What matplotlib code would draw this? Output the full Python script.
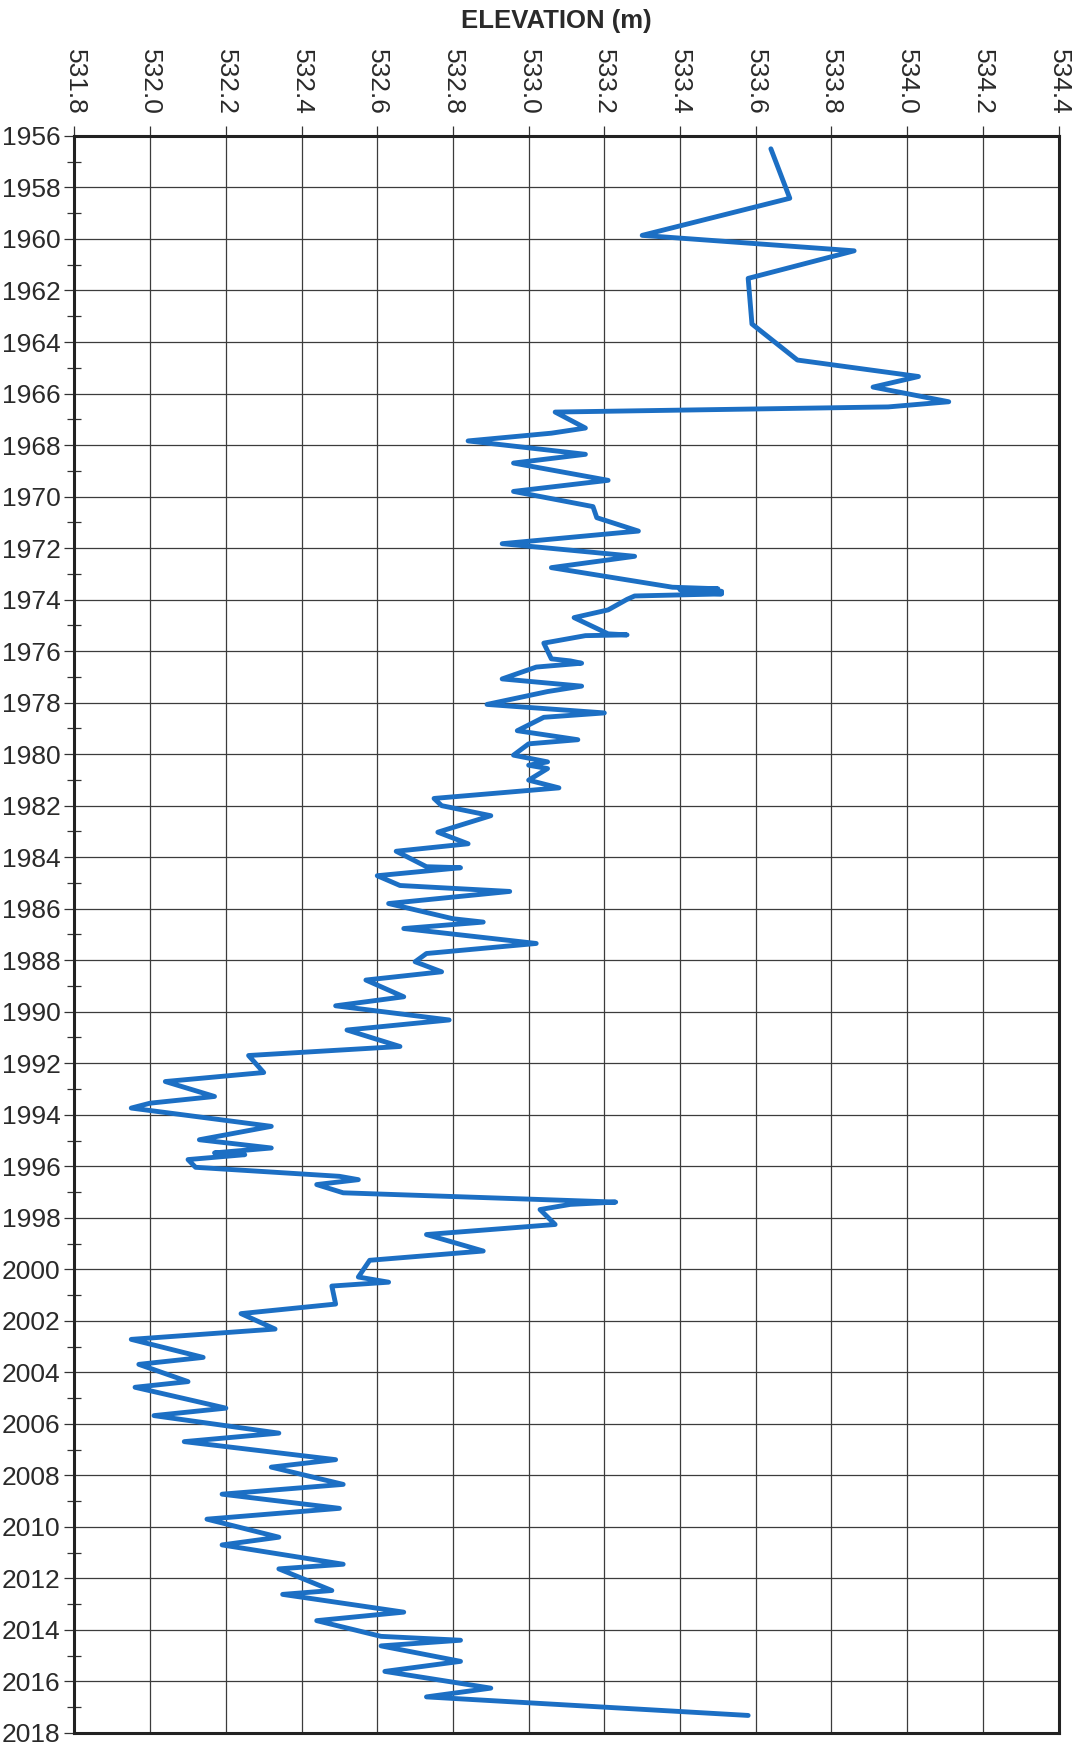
import matplotlib
matplotlib.use("Agg")
import matplotlib.pyplot as plt
from matplotlib.ticker import MultipleLocator, FixedLocator

plt.rcParams['font.family'] = ['Liberation Sans', 'DejaVu Sans']

# ---- data ----
years = [
    1956.50, 1958.42, 1959.86, 1960.46, 1961.53, 1963.30, 1964.70, 1965.34, 1965.75, 1966.32,
    1966.52, 1966.72, 1967.34, 1967.54, 1967.84, 1968.36, 1968.70, 1969.37, 1969.80, 1970.39,
    1970.82, 1971.34, 1971.83, 1972.32, 1972.76, 1973.52, 1973.58, 1973.62, 1973.68, 1973.72,
    1973.78, 1973.86, 1973.99, 1974.40, 1974.70, 1975.33, 1975.37, 1975.40, 1975.69, 1976.30,
    1976.38, 1976.47, 1976.62, 1977.08, 1977.36, 1977.57, 1978.07, 1978.40, 1978.57, 1979.09,
    1979.44, 1979.60, 1980.04, 1980.30, 1980.43, 1980.56, 1981.01, 1981.31, 1981.72, 1982.00,
    1982.39, 1983.03, 1983.48, 1983.77, 1984.37, 1984.41, 1984.72, 1985.10, 1985.33, 1985.80,
    1986.39, 1986.52, 1986.77, 1987.35, 1987.74, 1988.06, 1988.45, 1988.77, 1989.42, 1989.77,
    1990.32, 1990.71, 1991.35, 1991.70, 1992.36, 1992.71, 1993.29, 1993.55, 1993.74, 1994.45,
    1994.97, 1995.29, 1995.48, 1995.55, 1995.74, 1996.04, 1996.39, 1996.52, 1996.71, 1997.03,
    1997.39, 1997.48, 1997.68, 1998.26, 1998.65, 1999.29, 1999.65, 2000.30, 2000.50, 2000.65,
    2001.35, 2001.72, 2002.32, 2002.72, 2003.42, 2003.69, 2004.36, 2004.58, 2005.39, 2005.68,
    2006.36, 2006.69, 2007.39, 2007.68, 2008.35, 2008.73, 2009.28, 2009.70, 2010.40, 2010.70,
    2011.45, 2011.63, 2012.47, 2012.62, 2013.31, 2013.64, 2014.25, 2014.40, 2014.62, 2015.22,
    2015.61, 2016.26, 2016.60, 2017.32,
]
elevation = [
    533.64, 533.69, 533.30, 533.86, 533.58, 533.59, 533.71, 534.03, 533.91, 534.11,
    533.95, 533.07, 533.15, 533.06, 532.84, 533.15, 532.96, 533.21, 532.96, 533.17,
    533.18, 533.29, 532.93, 533.28, 533.06, 533.38, 533.50, 533.40, 533.51, 533.42,
    533.51, 533.28, 533.26, 533.21, 533.12, 533.21, 533.26, 533.15, 533.04, 533.06,
    533.11, 533.14, 533.02, 532.93, 533.14, 533.05, 532.89, 533.20, 533.04, 532.97,
    533.13, 533.00, 532.96, 533.05, 533.00, 533.05, 533.00, 533.08, 532.75, 532.77,
    532.90, 532.76, 532.84, 532.65, 532.73, 532.82, 532.60, 532.66, 532.95, 532.63,
    532.80, 532.88, 532.67, 533.02, 532.73, 532.70, 532.77, 532.57, 532.67, 532.49,
    532.79, 532.52, 532.66, 532.26, 532.30, 532.04, 532.17, 532.00, 531.95, 532.32,
    532.13, 532.32, 532.17, 532.25, 532.10, 532.12, 532.50, 532.55, 532.44, 532.51,
    533.23, 533.11, 533.03, 533.07, 532.73, 532.88, 532.58, 532.55, 532.63, 532.48,
    532.49, 532.24, 532.33, 531.95, 532.14, 531.97, 532.10, 531.96, 532.20, 532.01,
    532.34, 532.09, 532.49, 532.32, 532.51, 532.19, 532.50, 532.15, 532.34, 532.19,
    532.51, 532.34, 532.48, 532.35, 532.67, 532.44, 532.61, 532.82, 532.61, 532.82,
    532.62, 532.90, 532.73, 533.58,
]

x_ticks = [531.8, 532.0, 532.2, 532.4, 532.6, 532.8, 533.0, 533.2, 533.4, 533.6, 533.8, 534.0, 534.2, 534.4]
y_ticks = list(range(1956, 2019, 2))
title = "ELEVATION (m)"

# ---- figure ----
fig = plt.figure(figsize=(10.81, 17.45), dpi=100)
ax = fig.add_axes([0.0689, 0.0069, 0.9103, 0.9152])

ax.plot(elevation, years, color='#1c6fc4', lw=3.5, solid_joinstyle='round',
        solid_capstyle='round', zorder=3)

ax.set_xlim(x_ticks[0], x_ticks[-1])
ax.set_ylim(2018, 1956)

ax.xaxis.set_major_locator(FixedLocator(x_ticks))
ax.set_xticklabels([f"{v:.1f}" for v in x_ticks])
ax.yaxis.set_major_locator(FixedLocator(y_ticks))
ax.set_yticklabels([str(v) for v in y_ticks])
ax.yaxis.set_minor_locator(MultipleLocator(1))

ax.xaxis.tick_top()
ax.tick_params(axis='x', which='major', direction='out', length=7, width=0.9,
               color='#333333', labelsize=19, labelrotation=270, pad=8,
               labelcolor='#2a2a2a')
ax.tick_params(axis='y', which='major', direction='out', length=7, width=0.9,
               color='#333333', labelsize=19, pad=3, labelcolor='#2a2a2a')
ax.tick_params(axis='y', which='minor', direction='inout', length=10, width=0.9,
               color='#333333')
for lbl in ax.get_xticklabels():
    lbl.set_va('bottom')
    lbl.set_ha('center')

ax.grid(True, which='major', color='#3c3c3c', lw=0.9)
ax.set_axisbelow(True)

for side in ['left', 'top', 'bottom', 'right']:
    ax.spines[side].set_linewidth(2.2)
    ax.spines[side].set_color('#222222')

fig.text(0.515, 0.988, title, ha='center', va='center', fontsize=18.5,
         fontweight='bold', color='#2a2a2a')

fig.savefig('out.png', dpi=100, facecolor='white')
